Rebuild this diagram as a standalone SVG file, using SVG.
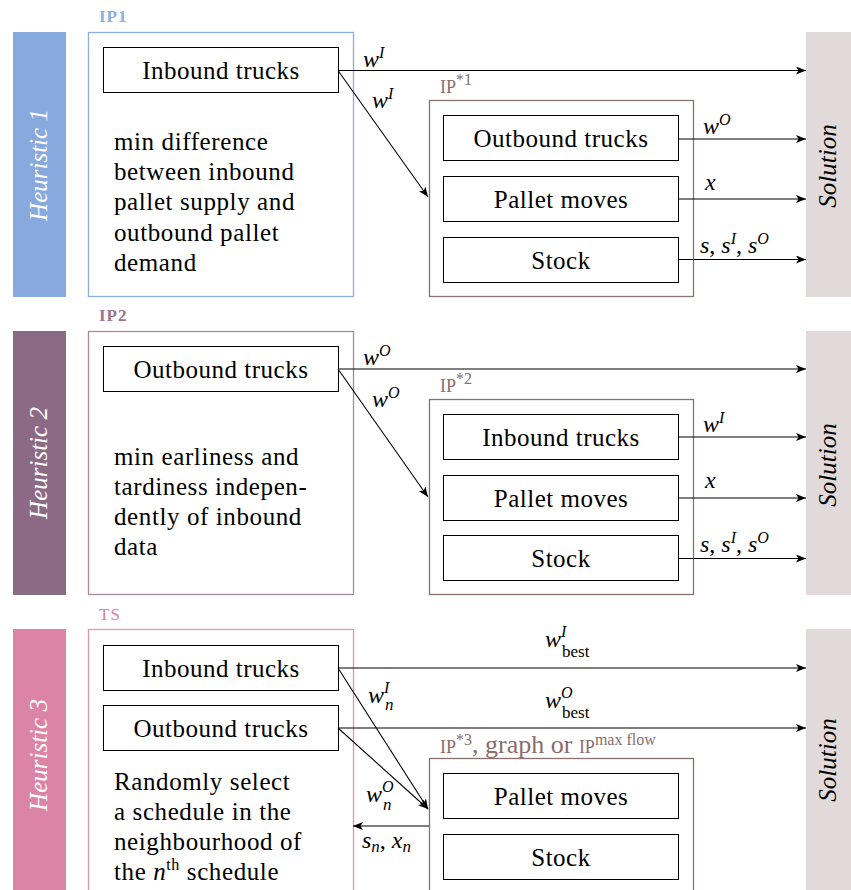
<svg xmlns="http://www.w3.org/2000/svg" width="851" height="890" viewBox="0 0 851 890">
<style>
text{font-family:"Liberation Serif","Times New Roman",serif;fill:#000}
.lbl{font-size:25px;text-anchor:middle;letter-spacing:0.5px}
.body{font-size:25px;letter-spacing:0.6px}
.m{font-size:24px;font-style:italic}
.sup{font-size:16px}
.rot{font-size:25px;font-style:italic;text-anchor:middle}
.box{fill:#fff;stroke:#000;stroke-width:1}
.in{fill:#fff;stroke:#8a7272;stroke-width:1.3}
.sc{font-size:17px;letter-spacing:1px;font-weight:bold}
.ln{stroke:#000;stroke-width:1.1;fill:none;marker-end:url(#ah)}
</style>
<defs>
<marker id="ah" viewBox="0 0 10 8" refX="10" refY="4" markerWidth="10" markerHeight="8" markerUnits="userSpaceOnUse" orient="auto">
<path d="M0,0 L10,4 L0,8 L2.5,4 Z" fill="#000"/>
</marker>
</defs>
<rect x="0" y="0" width="851" height="890" fill="#fff"/>

<!-- Heuristic 1 -->
<g id="heuristic1">
<rect x="13" y="32" width="53" height="265" fill="#87a9dd"/>
<text class="rot" transform="translate(47,165) rotate(-90)" style="fill:#fff">Heuristic 1</text>
</g>
<g id="ip1">
<rect x="88.5" y="32.5" width="265" height="264" fill="#fff" stroke="#8cb0e4" stroke-width="1.3"/>
<text x="99" y="22" class="sc" style="fill:#8cb0e4">IP1</text>
<text class="body" x="114" y="150">min difference</text>
<text class="body" x="114" y="180">between inbound</text>
<text class="body" x="114" y="210">pallet supply and</text>
<text class="body" x="114" y="241">outbound pallet</text>
<text class="body" x="114" y="271">demand</text>
</g>
<g id="ip1-inbound">
<rect class="box" x="103.5" y="47.5" width="235" height="45"/>
<text class="lbl" x="221" y="79">Inbound trucks</text>
</g>
<g id="ipstar1">
<rect class="in" x="429.5" y="100.5" width="264" height="196"/>
<text x="440" y="93" style="fill:#8a6e6e"><tspan style="font-size:18px">IP</tspan><tspan style="font-size:16px" dy="-8">*1</tspan></text>
</g>
<g id="ipstar1-outbound">
<rect class="box" x="443.5" y="115.5" width="235" height="45"/>
<text class="lbl" x="561" y="147">Outbound trucks</text>
</g>
<g id="ipstar1-pallet">
<rect class="box" x="443.5" y="176.5" width="235" height="45"/>
<text class="lbl" x="561" y="208">Pallet moves</text>
</g>
<g id="ipstar1-stock">
<rect class="box" x="443.5" y="237.5" width="235" height="45"/>
<text class="lbl" x="561" y="269">Stock</text>
</g>
<g id="solution1">
<rect x="806" y="32" width="45" height="265" fill="#e1d9da"/>
<text class="rot" transform="translate(836,166) rotate(-90)">Solution</text>
</g>

<!-- Heuristic 2 -->
<g id="heuristic2">
<rect x="13" y="331" width="53" height="264" fill="#8c6a86"/>
<text class="rot" transform="translate(47,463) rotate(-90)" style="fill:#fff">Heuristic 2</text>
</g>
<g id="ip2">
<rect x="88.5" y="331.5" width="265" height="263" fill="#fff" stroke="#a48ca0" stroke-width="1.3"/>
<text x="99" y="321" class="sc" style="fill:#9a7490">IP2</text>
<text class="body" x="114" y="465">min earliness and</text>
<text class="body" x="114" y="495">tardiness indepen-</text>
<text class="body" x="114" y="525">dently of inbound</text>
<text class="body" x="114" y="555">data</text>
</g>
<g id="ip2-outbound">
<rect class="box" x="103.5" y="346.5" width="235" height="45"/>
<text class="lbl" x="221" y="378">Outbound trucks</text>
</g>
<g id="ipstar2">
<rect class="in" x="429.5" y="399.5" width="264" height="195"/>
<text x="440" y="392" style="fill:#8a6e6e"><tspan style="font-size:18px">IP</tspan><tspan style="font-size:16px" dy="-8">*2</tspan></text>
</g>
<g id="ipstar2-inbound">
<rect class="box" x="443.5" y="414.5" width="235" height="45"/>
<text class="lbl" x="561" y="446">Inbound trucks</text>
</g>
<g id="ipstar2-pallet">
<rect class="box" x="443.5" y="475.5" width="235" height="45"/>
<text class="lbl" x="561" y="507">Pallet moves</text>
</g>
<g id="ipstar2-stock">
<rect class="box" x="443.5" y="535.5" width="235" height="45"/>
<text class="lbl" x="561" y="567">Stock</text>
</g>
<g id="solution2">
<rect x="806" y="331" width="45" height="264" fill="#e1d9da"/>
<text class="rot" transform="translate(836,465) rotate(-90)">Solution</text>
</g>

<!-- Heuristic 3 -->
<g id="heuristic3">
<rect x="13" y="629" width="53" height="261" fill="#dc84a6"/>
<text class="rot" transform="translate(47,755) rotate(-90)" style="fill:#fff">Heuristic 3</text>
</g>
<g id="ts">
<rect x="88.5" y="629.5" width="265" height="270" fill="#fff" stroke="#e292b2" stroke-width="1.3"/>
<text x="99" y="620" class="sc" style="fill:#e07fa8;font-weight:normal">TS</text>
<text class="body" x="114" y="790">Randomly select</text>
<text class="body" x="114" y="820">a schedule in the</text>
<text class="body" x="114" y="850">neighbourhood of</text>
<text class="body" x="114" y="880">the <tspan font-style="italic">n</tspan><tspan style="font-size:16px" dy="-10">th</tspan><tspan dy="10"> schedule</tspan></text>
</g>
<g id="ts-inbound">
<rect class="box" x="103.5" y="645.5" width="235" height="45"/>
<text class="lbl" x="221" y="677">Inbound trucks</text>
</g>
<g id="ts-outbound">
<rect class="box" x="103.5" y="705.5" width="235" height="45"/>
<text class="lbl" x="221" y="737">Outbound trucks</text>
</g>
<g id="ipstar3">
<rect class="in" x="429.5" y="758.5" width="264" height="140"/>
<text x="440" y="753" style="fill:#8a6e6e;font-size:26px"><tspan style="font-size:18px">IP</tspan><tspan style="font-size:16px" dy="-8">*3</tspan><tspan dy="8">, graph or </tspan><tspan style="font-size:18px">IP</tspan><tspan style="font-size:16px" dy="-8">max flow</tspan></text>
</g>
<g id="ipstar3-pallet">
<rect class="box" x="443.5" y="773.5" width="235" height="45"/>
<text class="lbl" x="561" y="805">Pallet moves</text>
</g>
<g id="ipstar3-stock">
<rect class="box" x="443.5" y="834.5" width="235" height="45"/>
<text class="lbl" x="561" y="866">Stock</text>
</g>
<g id="solution3">
<rect x="806" y="629" width="45" height="261" fill="#e1d9da"/>
<text class="rot" transform="translate(836,760) rotate(-90)">Solution</text>
</g>

<!-- Connectors -->
<g id="connectors">
<line class="ln" x1="338" y1="70.5" x2="806" y2="70.5"/>
<line class="ln" x1="338" y1="70.5" x2="428" y2="197"/>
<line class="ln" x1="678" y1="139" x2="806" y2="139"/>
<line class="ln" x1="678" y1="199" x2="806" y2="199"/>
<line class="ln" x1="678" y1="259.5" x2="806" y2="259.5"/>

<line class="ln" x1="338" y1="369" x2="806" y2="369"/>
<line class="ln" x1="338" y1="369" x2="428" y2="497"/>
<line class="ln" x1="678" y1="437" x2="806" y2="437"/>
<line class="ln" x1="678" y1="498" x2="806" y2="498"/>
<line class="ln" x1="678" y1="558.5" x2="806" y2="558.5"/>

<line class="ln" x1="338" y1="668" x2="806" y2="668"/>
<line class="ln" x1="338" y1="728" x2="806" y2="728"/>
<line class="ln" x1="338" y1="668" x2="428" y2="809"/>
<line class="ln" x1="338" y1="728" x2="428" y2="809"/>
<line class="ln" x1="429" y1="826" x2="353" y2="826"/>
</g>

<!-- Connector labels -->
<g id="connector-labels">
<text class="m" x="363" y="67">w<tspan class="sup" dy="-9">I</tspan></text>
<text class="m" x="372" y="108">w<tspan class="sup" dy="-9">I</tspan></text>
<text class="m" x="703" y="134">w<tspan class="sup" dy="-9">O</tspan></text>
<text class="m" x="705" y="190">x</text>
<text class="m" x="700" y="253">s<tspan font-style="normal">, </tspan>s<tspan class="sup" dy="-9">I</tspan><tspan dy="9" font-style="normal">, </tspan>s<tspan class="sup" dy="-9">O</tspan></text>

<text class="m" x="363" y="365">w<tspan class="sup" dy="-9">O</tspan></text>
<text class="m" x="372" y="407">w<tspan class="sup" dy="-9">O</tspan></text>
<text class="m" x="703" y="432">w<tspan class="sup" dy="-9">I</tspan></text>
<text class="m" x="705" y="488">x</text>
<text class="m" x="700" y="552">s<tspan font-style="normal">, </tspan>s<tspan class="sup" dy="-9">I</tspan><tspan dy="9" font-style="normal">, </tspan>s<tspan class="sup" dy="-9">O</tspan></text>

<text class="m" x="545" y="647">w<tspan class="sup" dy="-10">I</tspan></text>
<text x="562" y="657" style="font-size:17px">best</text>
<text class="m" x="545" y="708">w<tspan class="sup" dy="-10">O</tspan></text>
<text x="562" y="718" style="font-size:17px">best</text>
<text class="m" x="368" y="703">w<tspan class="sup" dy="-10">I</tspan></text>
<text x="385" y="710" style="font-size:17px;font-style:italic">n</text>
<text class="m" x="366" y="802">w<tspan class="sup" dy="-10">O</tspan></text>
<text x="383" y="810" style="font-size:17px;font-style:italic">n</text>
<text class="m" x="362" y="848">s<tspan style="font-size:17px" dy="4">n</tspan><tspan dy="-4" font-style="normal">, </tspan>x<tspan style="font-size:17px" dy="4">n</tspan></text>
</g>
</svg>
